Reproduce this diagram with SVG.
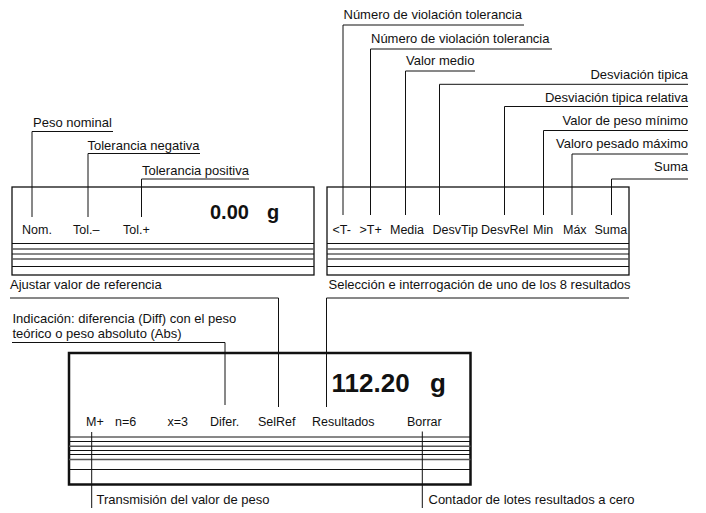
<svg xmlns="http://www.w3.org/2000/svg" width="706" height="513" viewBox="0 0 706 513">
<style>
text{font-family:"Liberation Sans",Arial,sans-serif;font-size:13px;fill:#111}
.pl{font-size:12.5px}
.big{font-weight:bold;font-size:20px}
.huge{font-weight:bold;font-size:26px}
.frame{fill:#fff;stroke:#111;stroke-width:1.3}
.frame2{fill:#fff;stroke:#111;stroke-width:2.5}
.ln{stroke:#111;stroke-width:1;fill:none}
.lg{stroke:#555;stroke-width:1.6;fill:none}
.c{stroke:#111;stroke-width:1;fill:none}
</style>
<rect width="706" height="513" fill="#fff"/>
<g id="panel-top-left">
<rect class="frame" x="12" y="187" width="302" height="88"/>
<path class="ln" d="M12 243.5H314M12 254H314M12 266.5H314"/>
<path class="lg" d="M12 249H314M12 259H314"/>
<text class="pl" x="22" y="233.5">Nom.</text>
<text class="pl" x="73" y="233.5">Tol.–</text>
<text class="pl" x="123" y="233.5">Tol.+</text>
<text class="big" x="210" y="219">0.00<tspan x="267">g</tspan></text>
</g>
<g id="panel-top-right">
<rect class="frame" x="327" y="187" width="302" height="88"/>
<path class="ln" d="M327 243.5H629M327 254H629M327 266.5H629"/>
<path class="lg" d="M327 249H629M327 259H629"/>
<text class="pl" x="332.5" y="233.5">&lt;T-</text>
<text class="pl" x="359.5" y="233.5">&gt;T+</text>
<text class="pl" x="390" y="233.5">Media</text>
<text class="pl" x="432.5" y="233.5">DesvTip</text>
<text class="pl" x="481" y="233.5">DesvRel</text>
<text class="pl" x="533" y="233.5">Min</text>
<text class="pl" x="563" y="233.5">Máx</text>
<text class="pl" x="594.5" y="233.5">Suma</text>
</g>
<g id="panel-bottom">
<rect class="frame2" x="69" y="353" width="401.5" height="131.5"/>
<path class="ln" d="M69 437H470.5M69 441.5H470.5M69 450.5H470.5M69 454.5H470.5M69 469.5H470.5"/>
<path class="lg" d="M69 446.3H470.5M69 459.5H470.5"/>
<text class="huge" x="331.5" y="392">112.20<tspan x="430">g</tspan></text>
<text class="pl" x="86" y="426">M+</text>
<text class="pl" x="115" y="426">n=6</text>
<text class="pl" x="167.5" y="426">x=3</text>
<text class="pl" x="210" y="426">Difer.</text>
<text class="pl" x="258" y="426">SelRef</text>
<text class="pl" x="312" y="426">Resultados</text>
<text class="pl" x="407" y="426">Borrar</text>
</g>
<g id="labels">
<g id="lbl-peso-nominal"><text x="33" y="127">Peso nominal</text></g>
<g id="lbl-tol-neg"><text x="87.5" y="149.5">Tolerancia negativa</text></g>
<g id="lbl-tol-pos"><text x="142" y="175">Tolerancia positiva</text></g>
<g id="lbl-viol1"><text x="343.5" y="19">Número de violación tolerancia</text></g>
<g id="lbl-viol2"><text x="371" y="43">Número de violación tolerancia</text></g>
<g id="lbl-media"><text x="406" y="64.5">Valor medio</text></g>
<g id="lbl-desvtip"><text x="688" y="78.5" text-anchor="end">Desviación tipica</text></g>
<g id="lbl-desvrel"><text x="688" y="101.5" text-anchor="end">Desviación tipica relativa</text></g>
<g id="lbl-min"><text x="688" y="125" text-anchor="end">Valor de peso mínimo</text></g>
<g id="lbl-max"><text x="688" y="147.5" text-anchor="end">Valoro pesado máximo</text></g>
<g id="lbl-suma"><text x="688" y="171" text-anchor="end">Suma</text></g>
<g id="lbl-ajustar"><text x="10" y="289">Ajustar valor de referencia</text></g>
<g id="lbl-seleccion"><text x="328.5" y="289">Selección e interrogación de uno de los 8 resultados</text></g>
<g id="lbl-indicacion"><text x="12.5" y="323">Indicación: diferencia (Diff) con el peso</text><text x="12.5" y="337.5">teórico o peso absoluto (Abs)</text></g>
<g id="lbl-transmision"><text x="96.5" y="504">Transmisión del valor de peso</text></g>
<g id="lbl-contador"><text x="428.5" y="504">Contador de lotes resultados a cero</text></g>
</g>
<g id="connectors">
<polyline class="c" points="113,131.5 32,131.5 32,217"/>
<polyline class="c" points="200,153.5 88,153.5 88,217"/>
<polyline class="c" points="249,179 141.5,179 141.5,217"/>
<polyline class="c" points="524,25 343,25 343,215"/>
<polyline class="c" points="552,49 370.5,49 370.5,215"/>
<polyline class="c" points="475,71 405.5,71 405.5,215"/>
<polyline class="c" points="688,84.3 439.5,84.3 439.5,215"/>
<polyline class="c" points="688,106.5 504.5,106.5 504.5,215"/>
<polyline class="c" points="688,130.5 543.5,130.5 543.5,215"/>
<polyline class="c" points="688,154 572,154 572,215"/>
<polyline class="c" points="688,179 611.5,179 611.5,215"/>
<polyline class="c" points="10,298 278.5,298 278.5,407"/>
<polyline class="c" points="629,298 326.5,298 326.5,407"/>
<polyline class="c" points="12,342.5 225,342.5 225,405"/>
<line class="c" x1="91.7" y1="432" x2="91.7" y2="508"/>
<line class="c" x1="422.3" y1="431.5" x2="422.3" y2="508"/>
</g>
</svg>
